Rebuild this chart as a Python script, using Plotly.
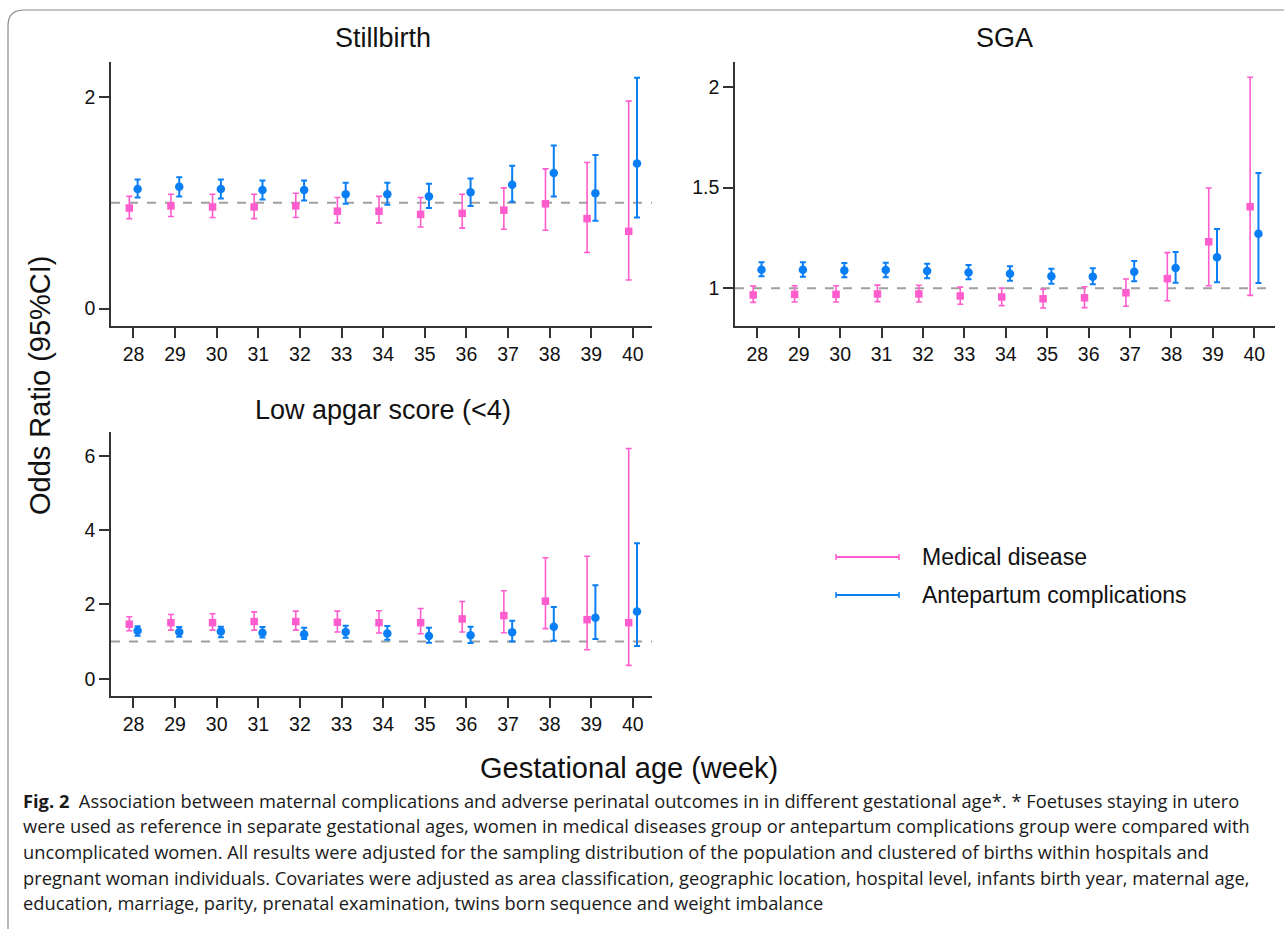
import plotly.graph_objects as go

W, H = 1284, 929

weeks = [28, 29, 30, 31, 32, 33, 34, 35, 36, 37, 38, 39, 40]

# Stillbirth
still_med_or = [0.95, 0.97, 0.96, 0.96, 0.97, 0.92, 0.92, 0.89, 0.90, 0.93, 0.99, 0.85, 0.73]
still_med_lo = [0.85, 0.87, 0.86, 0.85, 0.86, 0.81, 0.81, 0.77, 0.76, 0.75, 0.74, 0.53, 0.27]
still_med_hi = [1.06, 1.08, 1.08, 1.08, 1.09, 1.05, 1.06, 1.05, 1.08, 1.14, 1.32, 1.38, 1.96]
still_ant_or = [1.13, 1.15, 1.13, 1.12, 1.12, 1.08, 1.08, 1.06, 1.10, 1.17, 1.28, 1.09, 1.37]
still_ant_lo = [1.05, 1.06, 1.04, 1.03, 1.02, 0.99, 0.98, 0.95, 0.97, 1.01, 1.06, 0.83, 0.86]
still_ant_hi = [1.22, 1.24, 1.22, 1.21, 1.21, 1.19, 1.19, 1.18, 1.23, 1.35, 1.54, 1.45, 2.18]

# SGA
sga_med_or = [0.967, 0.970, 0.970, 0.972, 0.972, 0.962, 0.957, 0.948, 0.953, 0.978, 1.048, 1.231, 1.405]
sga_med_lo = [0.930, 0.932, 0.932, 0.934, 0.932, 0.921, 0.914, 0.902, 0.904, 0.911, 0.938, 1.013, 0.965]
sga_med_hi = [1.011, 1.013, 1.013, 1.016, 1.015, 1.006, 1.001, 0.995, 1.008, 1.046, 1.177, 1.498, 2.047]
sga_ant_or = [1.092, 1.092, 1.089, 1.091, 1.086, 1.079, 1.072, 1.060, 1.058, 1.082, 1.101, 1.154, 1.271]
sga_ant_lo = [1.060, 1.058, 1.055, 1.055, 1.050, 1.045, 1.038, 1.023, 1.020, 1.035, 1.028, 1.030, 1.026]
sga_ant_hi = [1.129, 1.129, 1.125, 1.127, 1.122, 1.116, 1.109, 1.097, 1.099, 1.135, 1.180, 1.294, 1.572]

# Low apgar score (<4)
apg_med_or = [1.47, 1.51, 1.51, 1.54, 1.54, 1.52, 1.51, 1.51, 1.61, 1.70, 2.09, 1.59, 1.51]
apg_med_lo = [1.29, 1.31, 1.31, 1.31, 1.31, 1.26, 1.23, 1.21, 1.26, 1.24, 1.35, 0.78, 0.36]
apg_med_hi = [1.67, 1.73, 1.75, 1.80, 1.82, 1.82, 1.83, 1.89, 2.08, 2.37, 3.26, 3.30, 6.20]
apg_ant_or = [1.29, 1.26, 1.27, 1.24, 1.20, 1.26, 1.22, 1.15, 1.17, 1.25, 1.40, 1.64, 1.81]
apg_ant_lo = [1.16, 1.13, 1.12, 1.11, 1.07, 1.10, 1.05, 0.97, 0.96, 1.00, 1.02, 1.07, 0.88]
apg_ant_hi = [1.41, 1.39, 1.40, 1.39, 1.37, 1.43, 1.42, 1.37, 1.40, 1.56, 1.93, 2.52, 3.65]

panel_titles = ["Stillbirth", "SGA", "Low apgar score (<4)"]
series_names = ["Medical disease", "Antepartum complications"]
REF = 1

PINK = "#ff5ccd"
BLUE = "#0a7ef5"
OFFSET = 0.1
FONT = "Liberation Sans, Arial, sans-serif"
CAP_FONT = "Open Sans, sans-serif"

fig = go.Figure()

panels = [
    ("x", "y", still_med_or, still_med_lo, still_med_hi, still_ant_or, still_ant_lo, still_ant_hi),
    ("x2", "y2", sga_med_or, sga_med_lo, sga_med_hi, sga_ant_or, sga_ant_lo, sga_ant_hi),
    ("x3", "y3", apg_med_or, apg_med_lo, apg_med_hi, apg_ant_or, apg_ant_lo, apg_ant_hi),
]

for xa, ya, mo, ml, mh, ao, al, ah in panels:
    fig.add_trace(go.Scatter(
        x=[w - OFFSET for w in weeks], y=mo, mode="markers", xaxis=xa, yaxis=ya,
        marker=dict(symbol="square", size=7.5, color=PINK),
        error_y=dict(type="data", symmetric=False,
                     array=[h - o for h, o in zip(mh, mo)],
                     arrayminus=[o - l for o, l in zip(mo, ml)],
                     color=PINK, thickness=1.6, width=3),
        showlegend=False, name=series_names[0]))
    fig.add_trace(go.Scatter(
        x=[w + OFFSET for w in weeks], y=ao, mode="markers", xaxis=xa, yaxis=ya,
        marker=dict(symbol="circle", size=8.5, color=BLUE),
        error_y=dict(type="data", symmetric=False,
                     array=[h - o for h, o in zip(ah, ao)],
                     arrayminus=[o - l for o, l in zip(ao, al)],
                     color=BLUE, thickness=2, width=3),
        showlegend=False, name=series_names[1]))

def px_x(p):
    return p / W

def px_y(p):
    return 1 - p / H

TICKFONT = dict(size=19.5, family=FONT, color="#111")
xcommon = dict(showline=True, linecolor="#333", linewidth=1.5, ticks="outside",
               ticklen=10, tickwidth=1.5, tickcolor="#333", tickvals=weeks,
               showgrid=False, zeroline=False, tickfont=TICKFONT)
ycommon = dict(showline=True, linecolor="#333", linewidth=1.5, ticks="outside",
               ticklen=10, tickwidth=1.5, tickcolor="#333",
               showgrid=False, zeroline=False, tickfont=TICKFONT)

top1, bot1 = px_y(62), px_y(326)
top3, bot3 = px_y(431.5), px_y(696)

shapes = []
# reference lines at OR = 1
for xa, ya in [("x", "y"), ("x2", "y2"), ("x3", "y3")]:
    shapes.append(dict(type="line", xref=f"{xa} domain", yref=ya, x0=0, x1=1, y0=REF, y1=REF,
                       line=dict(color="#a0a0a0", width=2, dash="dash"), layer="below"))

ann = []
# panel titles
for t, (cx, cy) in zip(panel_titles, [(383, 38), (1005, 38), (383, 410)]):
    ann.append(dict(text=t, x=px_x(cx), y=px_y(cy), xref="paper", yref="paper",
                    showarrow=False, font=dict(size=27, family=FONT, color="#111"),
                    xanchor="center", yanchor="middle"))
ann.append(dict(text="Odds Ratio (95%CI)", x=px_x(40), y=px_y(385), xref="paper", yref="paper",
                showarrow=False, textangle=-90, font=dict(size=29, family=FONT, color="#111"),
                xanchor="center", yanchor="middle"))
ann.append(dict(text="Gestational age (week)", x=px_x(629), y=px_y(768), xref="paper", yref="paper",
                showarrow=False, font=dict(size=29, family=FONT, color="#111"),
                xanchor="center", yanchor="middle"))

# legend (manual)
for name, col, ly in [(series_names[0], PINK, 557), (series_names[1], BLUE, 595)]:
    shapes.append(dict(type="line", xref="paper", yref="paper", x0=px_x(836), x1=px_x(899),
                       y0=px_y(ly), y1=px_y(ly), line=dict(color=col, width=2)))
    for ex in (836, 899):
        shapes.append(dict(type="line", xref="paper", yref="paper", x0=px_x(ex), x1=px_x(ex),
                           y0=px_y(ly - 3), y1=px_y(ly + 3), line=dict(color=col, width=1.5)))
    ann.append(dict(text=name, x=px_x(920), y=px_y(ly), xref="paper", yref="paper",
                    showarrow=False, font=dict(size=23, family=FONT, color="#111"),
                    xanchor="left", yanchor="middle"))

# caption
caption_lines = [
    "<b>Fig. 2</b>  Association between maternal complications and adverse perinatal outcomes in in different gestational age*. * Foetuses staying in utero",
    "were used as reference in separate gestational ages, women in medical diseases group or antepartum complications group were compared with",
    "uncomplicated women. All results were adjusted for the sampling distribution of the population and clustered of births within hospitals and",
    "pregnant woman individuals. Covariates were adjusted as area classification, geographic location, hospital level, infants birth year, maternal age,",
    "education, marriage, parity, prenatal examination, twins born sequence and weight imbalance",
]
for i, line in enumerate(caption_lines):
    ann.append(dict(text=line, x=px_x(21), y=px_y(800 + i * 25.7), xref="paper", yref="paper",
                    showarrow=False, font=dict(size=18.3, family=CAP_FONT, color="#1a1a1a"),
                    xanchor="left", yanchor="middle"))

# frame with rounded corner
shapes.append(dict(type="path", xref="paper", yref="paper",
                   path=f"M {px_x(1290)},{px_y(10)} L {px_x(24)},{px_y(10)} "
                        f"Q {px_x(8)},{px_y(10)} {px_x(8)},{px_y(26)} L {px_x(8)},{px_y(935)}",
                   line=dict(color="#8a8a8a", width=1.2)))

fig.update_layout(
    width=W, height=H, margin=dict(l=0, r=0, t=0, b=0),
    paper_bgcolor="white", plot_bgcolor="white",
    xaxis=dict(domain=[px_x(111), px_x(652)], range=[27.46, 40.46], anchor="y", **xcommon),
    yaxis=dict(domain=[bot1, top1], range=[-0.165, 2.33], anchor="x", tickvals=[0, 2], **ycommon),
    xaxis2=dict(domain=[px_x(735), px_x(1275)], range=[27.46, 40.5], anchor="y2", **xcommon),
    yaxis2=dict(domain=[bot1, top1], range=[0.813, 2.123], anchor="x2", tickvals=[1, 1.5, 2], **ycommon),
    xaxis3=dict(domain=[px_x(111), px_x(652)], range=[27.46, 40.46], anchor="y3", **xcommon),
    yaxis3=dict(domain=[bot3, top3], range=[-0.466, 6.66], anchor="x3", tickvals=[0, 2, 4, 6], **ycommon),
    annotations=ann, shapes=shapes,
)

fig.write_html("out.html", config={"displayModeBar": False},
               post_script="document.body.style.margin='0';document.body.style.overflow='hidden';")
